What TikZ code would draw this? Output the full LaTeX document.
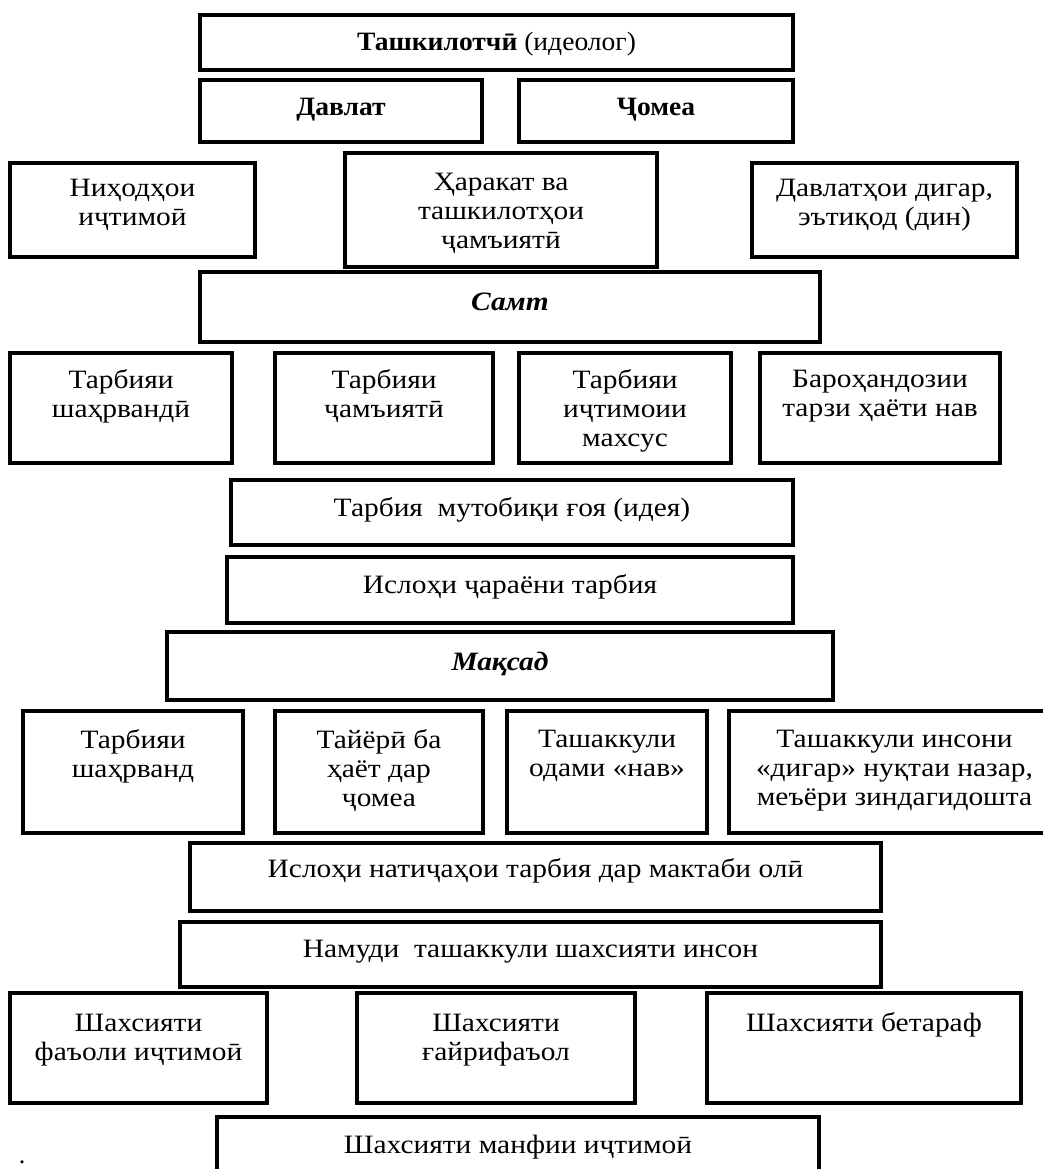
\documentclass[tikz,border=0pt]{standalone}
\usepackage{fontspec}
\setmainfont{Liberation Serif}
\newfontfamily\widefont[FakeStretch=1.11]{Liberation Serif}
\newfontfamily\slightfont[FakeStretch=1.04]{Liberation Serif}
\tikzset{
  bx/.style={draw=black, line width=4pt, inner sep=0pt, outer sep=0pt, fill=none},
  txt/.style={inner sep=0pt, outer sep=0pt, align=center, anchor=north,
    font=\widefont\fontsize{26.5}{29}\selectfont, execute at begin node=\rule{0pt}{24pt}},
  toptxt/.style={font=\slightfont\fontsize{26.5}{29}\selectfont},
}
% #1 = text offset from top, #2 name, #3-#6 corners, #7 text
\newcommand\bbox[7][12]{%
  \node[bx, minimum width={#5-#3}, minimum height={#6-#4}] (#2) at ({(#3+#5)/2},{(#4+#6)/2}) {};
  \node[txt] (#2t) at ([yshift=-#1pt]#2.north) {#7};}
\newcommand\tbox[6]{%
  \node[bx, minimum width={#4-#2}, minimum height={#5-#3}] (#1) at ({(#2+#4)/2},{(#3+#5)/2}) {};
  \node[txt, toptxt] (#1t) at ([yshift=-12pt]#1.north) {#6};}
\begin{document}
\begin{tikzpicture}[x=1pt,y=-1pt]
\useasboundingbox (0,0) rectangle (1043,1169);
\tbox{b1}{200}{15}{793}{70}{\textbf{Ташкилотчӣ} (идеолог)}
\tbox{b2}{200}{80}{482}{142}{\textbf{Давлат}}
\tbox{b3}{519}{80}{793}{142}{\textbf{Ҷомеа}}
\bbox[16]{b4}{10}{163}{255}{257}{Ниҳодҳои\\иҷтимоӣ}
\bbox[20]{b5}{345}{153}{657}{267}{Ҳаракат ва\\ташкилотҳои\\ҷамъиятӣ}
\bbox[16]{b6}{752}{163}{1017}{257}{Давлатҳои дигар,\\эътиқод (дин)}
\bbox[14]{b7}{200}{272}{820}{342}{\textbf{\textit{Самт}}}
\bbox[17]{b8}{10}{353}{232}{463}{Тарбияи\\шаҳрвандӣ}
\bbox[17]{b9}{275}{353}{493}{463}{Тарбияи\\ҷамъиятӣ}
\bbox[17]{b10}{519}{353}{731}{463}{Тарбияи\\иҷтимоии\\махсус}
\bbox[17]{b11}{760}{353}{1000}{463}{Бароҳандозии\\тарзи ҳаёти нав}
\bbox[12]{b12}{231}{480}{793}{545}{Тарбия\ \ мутобиқи ғоя (идея)}
\bbox[12]{b13}{227}{557}{793}{623}{Ислоҳи ҷараёни тарбия}
\bbox[14]{b14}{167}{632}{833}{700}{\textbf{\textit{Мақсад}}}
\bbox[19]{b15}{23}{711}{243}{833}{Тарбияи\\шаҳрванд}
\bbox[19]{b16}{275}{711}{483}{833}{Тайёрӣ ба\\ҳаёт дар\\ҷомеа}
\bbox[19]{b17}{507}{711}{707}{833}{Ташаккули\\одами «нав»}
\bbox[19]{b18}{729}{711}{1060}{833}{Ташаккули инсони\\«дигар» нуқтаи назар,\\меъёри зиндагидошта}
\bbox[10]{b19}{190}{843}{881}{911}{Ислоҳи натиҷаҳои тарбия дар мактаби олӣ}
\bbox[11]{b20}{180}{922}{881}{987}{Намуди\ \ ташаккули шахсияти инсон}
\bbox[21]{b21}{10}{993}{267}{1103}{Шахсияти\\фаъоли иҷтимоӣ}
\bbox[21]{b22}{357}{993}{635}{1103}{Шахсияти\\ғайрифаъол}
\bbox[14]{b23}{707}{993}{1021}{1103}{Шахсияти бетараф}
\bbox[12]{b24}{217}{1117}{819}{1195}{Шахсияти манфии иҷтимоӣ}
\node[inner sep=0pt, anchor=base, font=\fontsize{26}{29}\selectfont] (dot) at (22,1163) {.};
\end{tikzpicture}
\end{document}
